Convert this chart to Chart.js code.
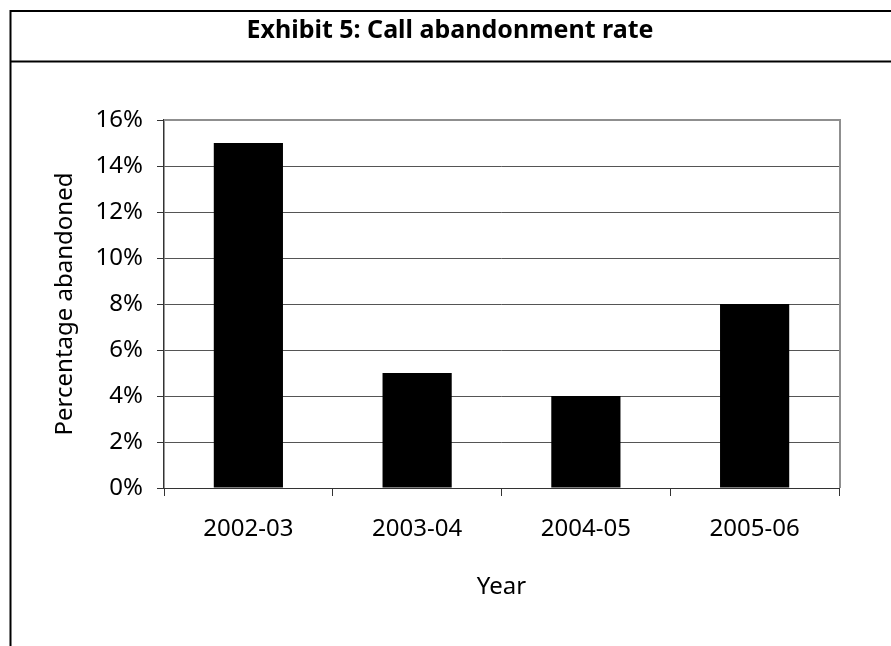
<!DOCTYPE html>
<html>
<head>
<meta charset="utf-8">
<script src="https://cdn.jsdelivr.net/npm/chart.js@4"></script>
<style>
  html, body { margin: 0; padding: 0; background: #fff; }
  #wrap { width: 891px; height: 646px; }
</style>
</head>
<body>
<div id="wrap"><canvas id="c" width="891" height="646"></canvas></div>
<script>
// Chart data
const years = ['2002-03', '2003-04', '2004-05', '2005-06'];
const abandonedPct = [15, 5, 4, 8];
const yTicks = [0, 2, 4, 6, 8, 10, 12, 14, 16];

const chartTitle = 'Exhibit 5: Call abandonment rate';
const xTitle = 'Year';
const yTitle = 'Percentage abandoned';

const FONT = '"Noto Sans", "Open Sans", sans-serif';

// Outer frame with the heading row, plus the grey plot-area border on top and right
const framePlugin = {
  id: 'frame',
  beforeDraw(chart) {
    const ctx = chart.ctx;
    ctx.save();
    ctx.fillStyle = '#ffffff';
    ctx.fillRect(0, 0, chart.width, chart.height);
    ctx.restore();
  },
  afterDraw(chart) {
    const ctx = chart.ctx;
    const a = chart.chartArea;
    ctx.save();
    // page frame
    ctx.strokeStyle = '#000';
    ctx.lineWidth = 2;
    ctx.beginPath();
    ctx.moveTo(10.5, 646);
    ctx.lineTo(10.5, 11);
    ctx.moveTo(9.5, 11);
    ctx.lineTo(891, 11);
    ctx.moveTo(9.5, 61.5);
    ctx.lineTo(891, 61.5);
    ctx.stroke();
    // heading, centred in the framed row
    ctx.fillStyle = '#000';
    ctx.font = 'bold 25px ' + FONT;
    ctx.textAlign = 'center';
    ctx.textBaseline = 'middle';
    ctx.fillText(chartTitle, 450, 31);
    // plot area border (top and right)
    ctx.strokeStyle = '#8f8f8f';
    ctx.lineWidth = 2;
    ctx.beginPath();
    ctx.moveTo(a.left, a.top);
    ctx.lineTo(a.right + 1, a.top);
    ctx.lineTo(a.right + 1, a.bottom);
    ctx.stroke();
    ctx.restore();
  }
};

new Chart(document.getElementById('c'), {
  type: 'bar',
  data: {
    labels: years,
    datasets: [{
      data: abandonedPct,
      backgroundColor: '#000000',
      borderWidth: 0,
      categoryPercentage: 1.0,
      barPercentage: 0.41
    }]
  },
  options: {
    responsive: false,
    animation: false,
    devicePixelRatio: 1,
    layout: { padding: { left: 0, right: 52, top: 120, bottom: 0 } },
    plugins: {
      legend: { display: false },
      tooltip: { enabled: false },
      title: { display: false }
    },
    scales: {
      x: {
        grid: {
          display: true,
          drawOnChartArea: false,
          drawTicks: true,
          tickLength: 8,
          offset: true,
          color: '#333',
          tickColor: '#333'
        },
        border: { display: true, color: '#333', width: 1 },
        ticks: {
          color: '#000',
          font: { family: FONT, size: 24, lineHeight: 1.2 },
          padding: 19,
          maxRotation: 0
        },
        title: {
          display: true,
          text: xTitle,
          color: '#000',
          font: { family: FONT, size: 24, lineHeight: 1.2 },
          padding: { top: 0, bottom: 44 }
        },
        afterFit(scale) { scale.height = 158; }
      },
      y: {
        min: 0,
        max: 16,
        afterBuildTicks(scale) {
          scale.ticks = yTicks.map(v => ({ value: v }));
        },
        grid: {
          color: '#555',
          lineWidth: 1,
          tickLength: 7,
          tickColor: '#333'
        },
        border: { display: true, color: '#333', width: 1.5 },
        ticks: {
          color: '#000',
          font: { family: FONT, size: 24, lineHeight: 1.2 },
          padding: 14,
          callback: v => v + '%'
        },
        title: {
          display: true,
          text: yTitle,
          color: '#000',
          font: { family: FONT, size: 24, lineHeight: 1.2 },
          padding: { top: 51, bottom: 0 }
        },
        afterFit(scale) { scale.width = 164; }
      }
    }
  },
  plugins: [framePlugin]
});
</script>
</body>
</html>
